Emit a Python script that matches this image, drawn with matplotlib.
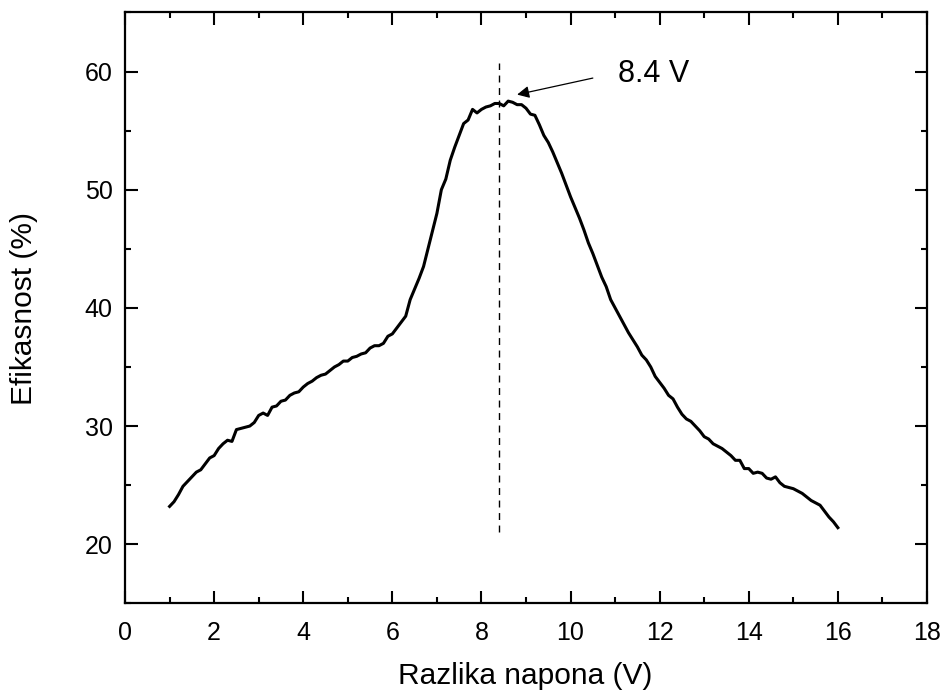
import matplotlib
matplotlib.use("Agg")
import matplotlib.pyplot as plt
from matplotlib.ticker import MultipleLocator

plt.rcParams['font.family'] = ['Liberation Sans', 'DejaVu Sans']

x_start = 1.0
x_step = 0.1
efficiency = [
    23.2, 23.6, 24.2, 24.9, 25.3, 25.7, 26.1, 26.3, 26.8, 27.3,
    27.5, 28.1, 28.5, 28.8, 28.7, 29.7, 29.8, 29.9, 30.0, 30.3,
    30.9, 31.1, 30.9, 31.6, 31.7, 32.1, 32.2, 32.6, 32.8, 32.9,
    33.3, 33.6, 33.8, 34.1, 34.3, 34.4, 34.7, 35.0, 35.2, 35.5,
    35.5, 35.8, 35.9, 36.1, 36.2, 36.6, 36.8, 36.8, 37.0, 37.6,
    37.8, 38.3, 38.8, 39.3, 40.7, 41.6, 42.5, 43.5, 45.0, 46.5,
    48.0, 50.0, 50.9, 52.5, 53.6, 54.6, 55.6, 55.9, 56.8, 56.5,
    56.8, 57.0, 57.1, 57.3, 57.3, 57.1, 57.5, 57.4, 57.2, 57.2,
    56.9, 56.4, 56.3, 55.5, 54.6, 54.0, 53.2, 52.3, 51.4, 50.4,
    49.4, 48.5, 47.6, 46.6, 45.5, 44.6, 43.6, 42.6, 41.8, 40.7,
    40.0, 39.3, 38.6, 37.9, 37.3, 36.7, 36.0, 35.6, 35.0, 34.2,
    33.7, 33.2, 32.6, 32.3, 31.6, 31.0, 30.6, 30.4, 30.0, 29.6,
    29.1, 28.9, 28.5, 28.3, 28.1, 27.8, 27.5, 27.1, 27.1, 26.4,
    26.4, 26.0, 26.1, 26.0, 25.6, 25.5, 25.7, 25.2, 24.9, 24.8,
    24.7, 24.5, 24.3, 24.0, 23.7, 23.5, 23.3, 22.8, 22.3, 21.9,
    21.4,
]
voltage = [round(x_start + i * x_step, 1) for i in range(len(efficiency))]

peak_voltage = 8.4
peak_line_range = [21.0, 60.7]
peak_label = "8.4 V"
arrow_tail = [10.5, 59.45]
arrow_head = [8.8, 58.05]

x_label = "Razlika napona (V)"
y_label = "Efikasnost (%)"
x_ticks = [0, 2, 4, 6, 8, 10, 12, 14, 16, 18]
y_ticks = [20, 30, 40, 50, 60]

fig = plt.figure(figsize=(9.43, 6.94), dpi=100)
ax = fig.add_axes([0.1326, 0.1307, 0.8504, 0.8513])

ax.plot(voltage, efficiency, color='black', linewidth=2.2)
ax.plot([peak_voltage, peak_voltage], peak_line_range, color='black',
        linewidth=1.0, linestyle=(0, (5, 4)))

ax.annotate('', xy=arrow_head, xytext=arrow_tail,
            arrowprops=dict(arrowstyle='-|>', color='black', lw=0.9,
                            mutation_scale=18, shrinkA=0, shrinkB=0))
ax.text(11.07, 59.8, peak_label, fontsize=22, va='center', ha='left')

ax.set_xlim(0, 18)
ax.set_ylim(15, 65)
ax.set_xticks(x_ticks)
ax.set_yticks(y_ticks)
ax.xaxis.set_minor_locator(MultipleLocator(1))
ax.yaxis.set_minor_locator(MultipleLocator(5))
ax.tick_params(which='both', direction='in', top=True, right=True, width=1.5,
               labelsize=18)
ax.tick_params(which='major', length=9)
ax.tick_params(which='minor', length=4.5)
ax.tick_params(axis='x', which='major', pad=13)
ax.tick_params(axis='y', which='major', pad=9)
for s in ax.spines.values():
    s.set_linewidth(1.6)

ax.set_xlabel(x_label, fontsize=21.5)
ax.set_ylabel(y_label, fontsize=21.5)
ax.xaxis.set_label_coords(0.499, -0.100)
ax.yaxis.set_label_coords(-0.108, 0.499)

fig.savefig("out.png", dpi=100)
